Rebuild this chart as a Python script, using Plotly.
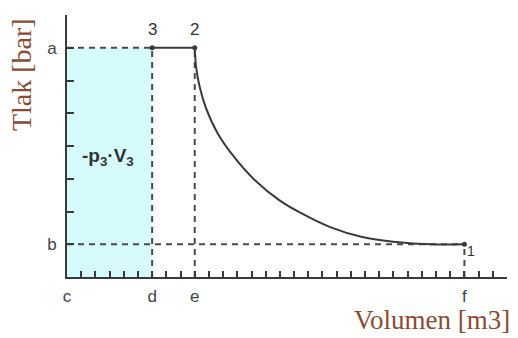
import plotly.graph_objects as go

# Axis markers (volume and pressure levels) and their labels
vol_ticks = [0, 6, 9, 28]
vol_labels = ["c", "d", "e", "f"]
press_ticks = [7, 1]
press_labels = ["a", "b"]

# State points 3, 2, 1
point_names = ["3", "2", "1"]
point_vol = [6, 9, 28]
point_press = [7, 7, 1]

# Expansion curve 2 -> 1
curve_vol = [9.0, 9.1, 9.35, 9.8, 10.6, 11.8, 13.2, 15.0, 16.4, 18.5, 20.8, 23.2, 25.6, 28.0]
curve_press = [7.0, 6.4, 5.8, 5.15, 4.4, 3.65, 2.97, 2.33, 1.97, 1.53, 1.22, 1.07, 1.0, 1.0]

# Shaded work area -p3*V3
area_vol = [0, 6, 6, 0, 0]
area_press = [0, 0, 7, 7, 0]

line_col = "#3a3a3a"
dash_col = "#4a4a4a"
title_col = "#8a4b35"

fig = go.Figure()

fig.add_trace(go.Scatter(
    x=area_vol, y=area_press, mode="none", fill="toself",
    fillcolor="#d6fbfd", hoverinfo="skip", showlegend=False))

# Dashed guide lines
guides = [
    ([0, point_vol[0]], [point_press[0], point_press[0]]),
    ([point_vol[0], point_vol[0]], [0, point_press[0]]),
    ([point_vol[1], point_vol[1]], [0, point_press[1]]),
    ([0, point_vol[2]], [point_press[2], point_press[2]]),
    ([point_vol[2], point_vol[2]], [0, point_press[2]]),
]
for gx, gy in guides:
    fig.add_trace(go.Scatter(
        x=gx, y=gy, mode="lines",
        line=dict(color=dash_col, width=2, dash="6px,5px"),
        hoverinfo="skip", showlegend=False))

# Isobaric segment 3 -> 2
fig.add_trace(go.Scatter(
    x=point_vol[:2], y=point_press[:2], mode="lines",
    line=dict(color=line_col, width=2), showlegend=False))

# Expansion curve
fig.add_trace(go.Scatter(
    x=curve_vol, y=curve_press, mode="lines", line_shape="spline",
    line=dict(color=line_col, width=2), showlegend=False))

# State points
fig.add_trace(go.Scatter(
    x=point_vol, y=point_press, mode="markers",
    marker=dict(color=line_col, size=5), showlegend=False))

ann = []
for name, vx, py in zip(point_names[:2], point_vol[:2], point_press[:2]):
    ann.append(dict(x=vx, y=py, text=name, showarrow=False, yshift=18,
                    font=dict(family="Liberation Sans", size=17, color="#333")))
ann.append(dict(x=point_vol[2], y=point_press[2], text=point_names[2], showarrow=False,
                xshift=7, yshift=-7,
                font=dict(family="Liberation Sans", size=14, color="#333")))
ann.append(dict(x=2.9, y=3.65, text="<b>-p<sub>3</sub>·V<sub>3</sub></b>", showarrow=False,
                font=dict(family="Liberation Sans", size=19, color="#333")))
ann.append(dict(xref="paper", yref="paper", x=-0.102, y=0.771, text="Tlak [bar]",
                textangle=-90, showarrow=False, xanchor="center", yanchor="middle",
                font=dict(family="Liberation Serif", size=28, color=title_col)))
ann.append(dict(xref="paper", yref="paper", x=0.83, y=-0.165, text="Volumen [m3]",
                showarrow=False, xanchor="center", yanchor="middle",
                font=dict(family="Liberation Serif", size=27, color=title_col)))

fig.update_layout(
    width=518, height=338,
    margin=dict(l=67, r=11, t=15, b=61),
    paper_bgcolor="white", plot_bgcolor="white",
    annotations=ann,
    xaxis=dict(range=[0, 31], showgrid=False, zeroline=False,
               showline=True, linecolor=line_col, linewidth=2,
               tickvals=vol_ticks, ticktext=vol_labels,
               ticks="inside", ticklen=6, tickwidth=1.5, tickcolor=line_col,
               ticklabelstandoff=3,
               minor=dict(dtick=1, tick0=0, ticks="inside", ticklen=6,
                          tickwidth=1.5, tickcolor=line_col),
               tickfont=dict(family="Liberation Sans", size=17, color="#444")),
    yaxis=dict(range=[0, 8], showgrid=False, zeroline=False,
               showline=True, linecolor=line_col, linewidth=2,
               tickvals=press_ticks, ticktext=press_labels,
               ticks="inside", ticklen=7, tickwidth=1.5, tickcolor=line_col,
               ticklabelstandoff=5,
               minor=dict(dtick=1, tick0=0, ticks="inside", ticklen=7,
                          tickwidth=1.5, tickcolor=line_col),
               tickfont=dict(family="Liberation Sans", size=17, color="#444")),
)

fig.write_html("out.html")
